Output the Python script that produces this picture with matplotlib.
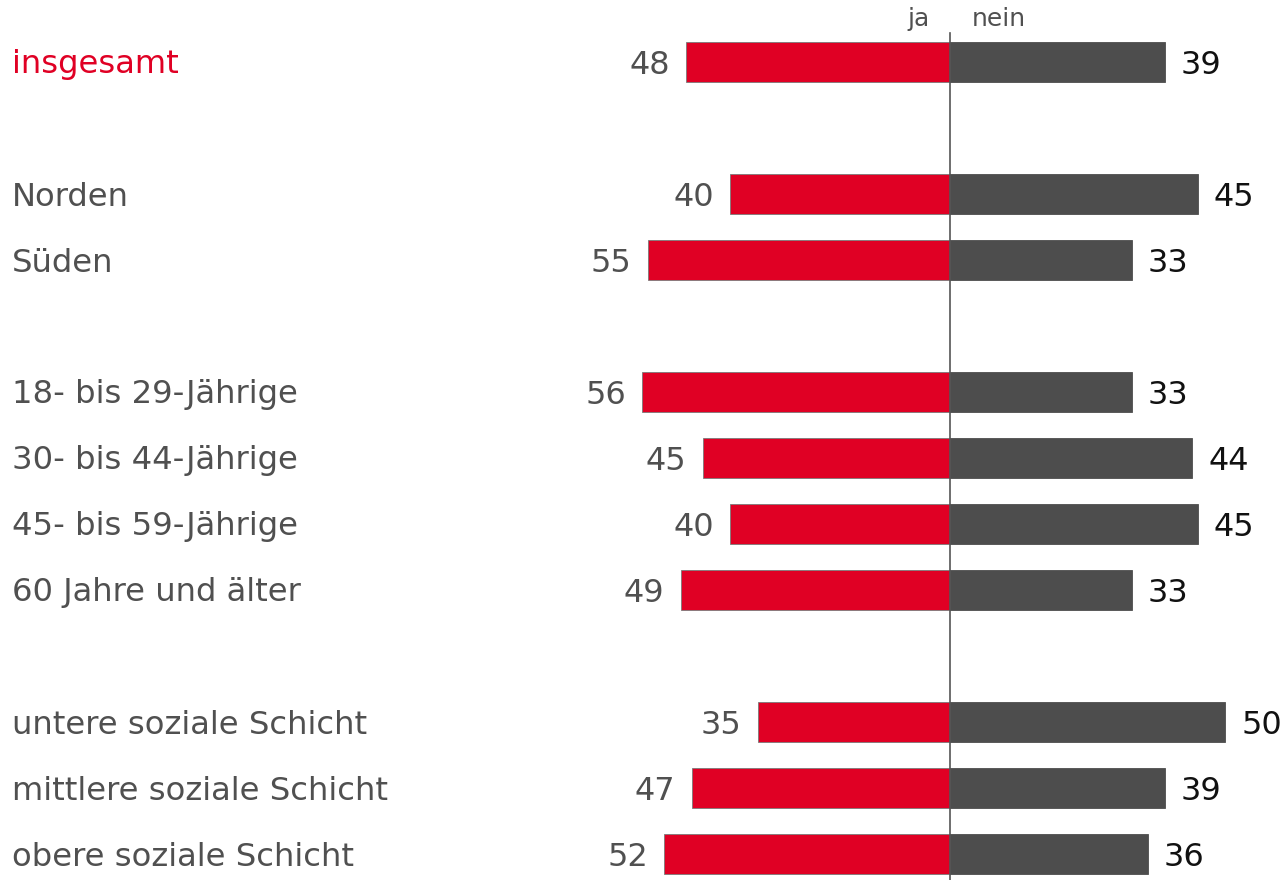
import matplotlib.pyplot as plt

# Data
categories = ['insgesamt', 'Norden', 'Süden',
              '18- bis 29-Jährige', '30- bis 44-Jährige', '45- bis 59-Jährige', '60 Jahre und älter',
              'untere soziale Schicht', 'mittlere soziale Schicht', 'obere soziale Schicht']
rows = [0, 2, 3, 5, 6, 7, 8, 10, 11, 12]
ja = [48, 40, 55, 56, 45, 40, 49, 35, 47, 52]
nein = [39, 45, 33, 33, 44, 45, 33, 50, 39, 36]

red = '#E00024'
dark = '#4D4D4D'
grey_text = '#505050'

W, H = 1287, 880
px = 5.5          # pixels per percent
x0 = 950          # zero line pixel
row_h = 66
y_first = 62

fig = plt.figure(figsize=(W / 100, H / 100), dpi=100)
ax = fig.add_axes([0, 0, 1, 1])
ax.set_xlim(-x0 / px, (W - x0) / px)
ax.set_ylim((H - y_first) / row_h, -y_first / row_h)
ax.axis('off')

ax.barh(rows, [-v for v in ja], height=0.6, color=red, edgecolor='#7a7a7a', linewidth=0.6)
ax.barh(rows, nein, height=0.6, color=dark, edgecolor=dark, linewidth=0.6)

gap = 16 / px
dy = 3 / row_h
for r, name, a, b in zip(rows, categories, ja, nein):
    col = red if name == 'insgesamt' else grey_text
    ax.text(-x0 / px + 12 / px, r + dy, name, ha='left', va='center', fontsize=23.2, color=col)
    ax.text(-a - gap, r + dy, str(a), ha='right', va='center', fontsize=23, color=grey_text)
    ax.text(b + gap, r + dy, str(b), ha='left', va='center', fontsize=23, color='#111111')

# zero line
ax.plot([0, 0], [-29 / row_h, (H - y_first) / row_h], color='#555555', linewidth=1.2)

# header
head_y = (19 - y_first) / row_h
ax.text(-20 / px, head_y, 'ja', ha='right', va='center', fontsize=18, color=grey_text)
ax.text(22 / px, head_y, 'nein', ha='left', va='center', fontsize=18, color=grey_text)

fig.savefig('out.png', dpi=100)
